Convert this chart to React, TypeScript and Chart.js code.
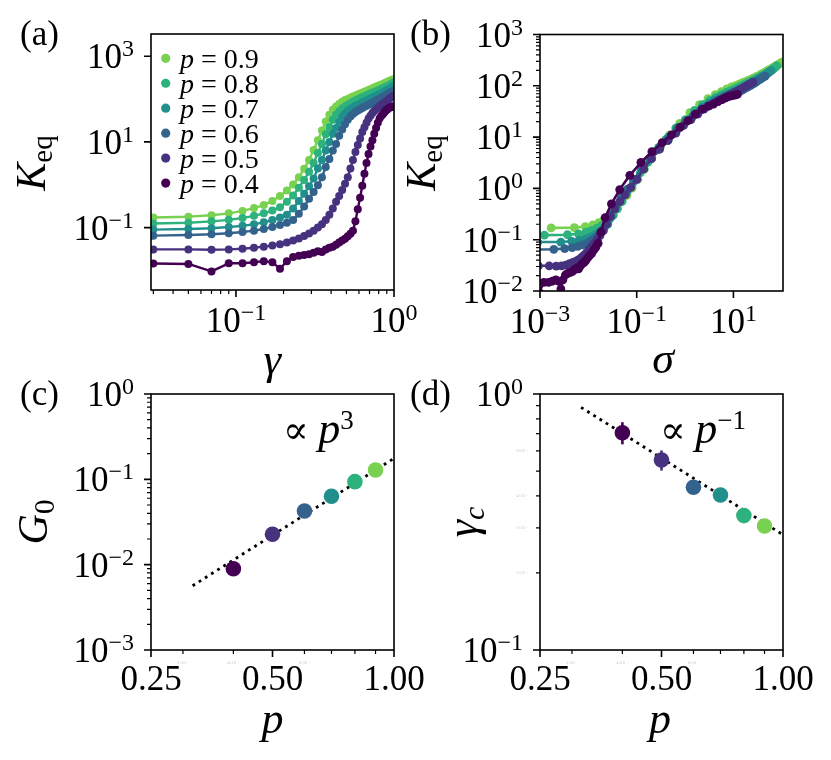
import React, { useEffect, useRef } from 'react';
import { Chart, registerables } from 'chart.js';
Chart.register(...registerables);

const SERIF = '"Liberation Serif", "DejaVu Serif", "Times New Roman", serif';

// ---------------- data ----------------
const gammaVals = [0.01, 0.03, 0.05, 0.07, 0.09, 0.11, 0.13, 0.15, 0.17, 0.19, 0.21, 0.23, 0.25, 0.27, 0.29, 0.31, 0.33, 0.35, 0.37, 0.39, 0.41, 0.43, 0.45, 0.47, 0.49, 0.51, 0.53, 0.55, 0.57, 0.59, 0.61, 0.63, 0.65, 0.67, 0.69, 0.71, 0.73, 0.75, 0.77, 0.79, 0.81, 0.83, 0.85, 0.87, 0.89, 0.91, 0.93, 0.95, 0.97, 0.99];

const K09 = [0.17, 0.172, 0.18, 0.195, 0.215, 0.245, 0.285, 0.335, 0.42, 0.55, 0.73, 1.01, 1.5, 2.35, 3.8, 6.5, 11, 18.5, 30, 43, 56, 67, 77, 87, 95, 101, 108, 115, 121, 127, 134, 141, 148, 155, 162, 170, 177, 185, 193, 201, 209, 217, 225, 234, 243, 252, 261, 270, 280, 290];
const K08 = [0.123, 0.125, 0.13, 0.14, 0.152, 0.168, 0.188, 0.215, 0.25, 0.30, 0.40, 0.56, 0.85, 1.3, 2.0, 3.2, 5.5, 9, 15, 22, 33, 43, 52, 60, 67, 74, 80, 86, 92, 98, 104, 110, 116, 122, 128, 134, 140, 146, 152, 158, 164, 171, 178, 185, 193, 201, 210, 220, 232, 245];
const K07 = [0.09, 0.09, 0.093, 0.097, 0.103, 0.11, 0.12, 0.133, 0.15, 0.172, 0.2, 0.28, 0.42, 0.62, 0.92, 1.4, 2.4, 3.8, 6.3, 10, 15.5, 21, 29, 38, 46, 53, 59, 64, 69, 73, 78, 83, 88, 93, 98, 103, 108, 113, 118, 124, 130, 136, 142, 149, 156, 163, 171, 179, 188, 198];
const K06 = [0.064, 0.065, 0.067, 0.07, 0.074, 0.079, 0.085, 0.093, 0.103, 0.115, 0.13, 0.15, 0.21, 0.31, 0.47, 0.68, 0.97, 1.5, 2.6, 4.0, 6.3, 9, 14, 19.5, 26, 33, 39, 45, 50, 54, 58, 62, 66, 70, 74, 78, 82, 87, 92, 96, 101, 106, 112, 118, 124, 130, 136, 142, 149, 155];
const K05 = [0.031, 0.031, 0.031, 0.0305, 0.031, 0.032, 0.034, 0.036, 0.038, 0.041, 0.045, 0.05, 0.056, 0.064, 0.073, 0.085, 0.1, 0.12, 0.15, 0.2, 0.28, 0.40, 0.55, 0.75, 1.05, 1.5, 2.4, 3.8, 5.8, 8.5, 12, 17, 22, 28, 35, 41, 47, 53, 58, 63, 68, 73, 78, 83, 88, 94, 100, 106, 112, 118];
const K04 = [0.0145, 0.0145, 0.0142, 0.0095, 0.0147, 0.0147, 0.0155, 0.0165, 0.0155, 0.011, 0.0165, 0.0205, 0.022, 0.023, 0.024, 0.026, 0.028, 0.027, 0.031, 0.034, 0.036, 0.040, 0.045, 0.050, 0.055, 0.063, 0.072, 0.085, 0.14, 0.27, 0.5, 0.95, 1.8, 3.2, 5.2, 7.8, 11, 15.5, 21, 28, 35, 40, 44, 49, 54, 58, 62, 64, 66, 68];

const sigma09 = [0.0017, 0.00512, 0.00864, 0.0124, 0.0165, 0.0211, 0.0264, 0.0326, 0.0401, 0.0498, 0.0626, 0.080, 0.105, 0.144, 0.205, 0.308, 0.483, 0.778, 1.26, 1.99, 2.98, 4.21, 5.65, 7.29, 9.11, 11.07, 13.16, 15.39, 17.75, 20.23, 22.84, 25.59, 28.48, 31.51, 34.68, 38.0, 41.47, 45.09, 48.87, 52.81, 56.91, 61.17, 65.59, 70.18, 74.95, 79.9, 85.03, 90.34, 95.84, 101.5];
const sigma08 = [0.00123, 0.00371, 0.00626, 0.00896, 0.01188, 0.01508, 0.01864, 0.02267, 0.02732, 0.03282, 0.03982, 0.04942, 0.06352, 0.08502, 0.118, 0.170, 0.257, 0.402, 0.642, 1.012, 1.562, 2.322, 3.272, 4.392, 5.662, 7.072, 8.612, 10.27, 12.05, 13.95, 15.97, 18.11, 20.37, 22.75, 25.25, 27.87, 30.61, 33.47, 36.45, 39.55, 42.77, 46.12, 49.61, 53.24, 57.02, 60.96, 65.07, 69.37, 73.89, 78.66];
const sigma07 = [0.0009, 0.0027, 0.00453, 0.00643, 0.00843, 0.01056, 0.01286, 0.01539, 0.01822, 0.02144, 0.02516, 0.02996, 0.03696, 0.04736, 0.06276, 0.08596, 0.124, 0.186, 0.287, 0.450, 0.705, 1.07, 1.57, 2.24, 3.08, 4.07, 5.19, 6.42, 7.75, 9.17, 10.68, 12.29, 14.0, 15.81, 17.72, 19.73, 21.84, 24.05, 26.36, 28.78, 31.32, 33.98, 36.76, 39.67, 42.72, 45.91, 49.25, 52.75, 56.42, 60.28];
const sigma06 = [0.00064, 0.00193, 0.00325, 0.00462, 0.00606, 0.00759, 0.00923, 0.01101, 0.01297, 0.01515, 0.0176, 0.0204, 0.024, 0.0292, 0.037, 0.0485, 0.065, 0.0897, 0.1307, 0.1967, 0.2997, 0.4527, 0.6827, 1.018, 1.473, 2.063, 2.783, 3.623, 4.573, 5.613, 6.733, 7.933, 9.213, 10.57, 12.01, 13.53, 15.13, 16.82, 18.61, 20.49, 22.46, 24.53, 26.71, 29.01, 31.43, 33.97, 36.63, 39.41, 42.32, 45.36];
const sigma05 = [0.00031, 0.00093, 0.00155, 0.00217, 0.00279, 0.00342, 0.00408, 0.00478, 0.00552, 0.00631, 0.00717, 0.00812, 0.00918, 0.01038, 0.01175, 0.01333, 0.01518, 0.01738, 0.02008, 0.02358, 0.02838, 0.03518, 0.04468, 0.05768, 0.07568, 0.1012, 0.1402, 0.2022, 0.2982, 0.4412, 0.6462, 0.9362, 1.326, 1.826, 2.456, 3.216, 4.096, 5.096, 6.206, 7.416, 8.726, 10.14, 11.65, 13.26, 14.97, 16.79, 18.73, 20.79, 22.97, 25.27];
const sigma04 = [0.000145, 0.000435, 0.000722, 0.000959, 0.001201, 0.001495, 0.001797, 0.002117, 0.002437, 0.002702, 0.002977, 0.003347, 0.003772, 0.004222, 0.004692, 0.005192, 0.005732, 0.006282, 0.006862, 0.007512, 0.008212, 0.008972, 0.009822, 0.01077, 0.01182, 0.013, 0.01435, 0.01592, 0.01817, 0.02227, 0.02997, 0.04447, 0.07197, 0.122, 0.206, 0.336, 0.524, 0.789, 1.154, 1.644, 2.274, 3.024, 3.864, 4.794, 5.824, 6.944, 8.144, 9.404, 10.7, 12.04];

const pValues = [0.4, 0.5, 0.6, 0.7, 0.8, 0.9];
const pColors = ['#440154', '#46327e', '#33638d', '#21908d', '#2db27d', '#79d151'];
const Kseries = [K04, K05, K06, K07, K08, K09];
const sigmaSeries = [sigma04, sigma05, sigma06, sigma07, sigma08, sigma09];

const G0Vals = [0.00897, 0.0227, 0.0426, 0.0633, 0.0939, 0.1286];
const gammaCVals = [0.706, 0.552, 0.432, 0.403, 0.335, 0.305];
const gammaCErr = [0.07, 0.05, 0.012, 0.01, 0.008, 0.008];

const fitG0P = [0.317, 1.0];
const fitG0Y = [0.00566, 0.176];
const fitGcP = [0.316, 1.0];
const fitGcY = [0.887, 0.282];

// ticks
const aXMajor = [0.1, 1];
const aXMinor = [0.03, 0.04, 0.05, 0.06, 0.07, 0.08, 0.09, 0.2, 0.3, 0.4, 0.5, 0.6, 0.7, 0.8, 0.9];
const aYMajor = [0.1, 10, 1000];
const bXMajor = [0.001, 0.1, 10];
const bYMajor = [0.01, 0.1, 1, 10, 100, 1000];
const cYMajor = [0.001, 0.01, 0.1, 1];
const dYMajor = [0.1, 1];
const dYMinor = [0.2, 0.3, 0.4, 0.5, 0.6, 0.7, 0.8, 0.9];
const pXMajor = [0.25, 0.5, 1.0];
const pXMajorLabels = ['0.25', '0.50', '1.00'];
const pXMinor = [0.3, 0.4, 0.6, 0.7, 0.8, 0.9];
const faintXMinor = [0.3, 0.4, 0.6];
const faintXLabels = ['3\u00d710\u207b\u00b9', '4\u00d710\u207b\u00b9', '6\u00d710\u207b\u00b9'];
const faintYMinor = [0.2, 0.3, 0.4, 0.6];
const faintYLabels = ['2\u00d710\u207b\u00b9', '3\u00d710\u207b\u00b9', '4\u00d710\u207b\u00b9', '6\u00d710\u207b\u00b9'];

function minorLog(e0: number, e1: number): number[] {
  const out: number[] = [];
  for (let e = e0; e <= e1; e++) for (let m = 2; m <= 9; m++) out.push(m * Math.pow(10, e));
  return out;
}

// ---------------- text helpers ----------------
type Part = { t: string; s: number; it?: boolean; dy?: number };
function fontOf(p: Part) {
  return `${p.it ? 'italic ' : ''}${p.s}px ${SERIF}`;
}
function partsWidth(ctx: CanvasRenderingContext2D, parts: Part[]) {
  let w = 0;
  for (const p of parts) {
    ctx.font = fontOf(p);
    w += ctx.measureText(p.t).width;
  }
  return w;
}
function drawParts(ctx: CanvasRenderingContext2D, parts: Part[], x: number, y: number, align: 'left' | 'center' | 'right') {
  const w = partsWidth(ctx, parts);
  let cx = align === 'left' ? x : align === 'center' ? x - w / 2 : x - w;
  ctx.textAlign = 'left';
  ctx.textBaseline = 'alphabetic';
  for (const p of parts) {
    ctx.font = fontOf(p);
    ctx.fillText(p.t, cx, y + (p.dy || 0));
    cx += ctx.measureText(p.t).width;
  }
}
function powLabel(v: number): Part[] {
  const e = Math.round(Math.log10(v));
  return [
    { t: '10', s: 35 },
    { t: e < 0 ? '\u2212' + Math.abs(e) : String(e), s: 24, dy: -12 },
  ];
}

interface PanelSpec {
  xMajor: number[];
  xLabels: Part[][];
  xMinor: number[];
  yMajor: number[];
  yLabels: Part[][];
  yMinor: number[];
  xTitle: Part[];
  xTitleAt: [number, number];
  yTitle: Part[];
  yTitleAt: [number, number];
  tag: string;
  tagAt: [number, number];
  extra?: (ctx: CanvasRenderingContext2D, chart: any) => void;
}

function decorPlugin(spec: PanelSpec) {
  return {
    id: 'panelDecor',
    afterDraw(chart: any) {
      const ctx: CanvasRenderingContext2D = chart.ctx;
      const a = chart.chartArea;
      const xs = chart.scales.x;
      const ys = chart.scales.y;
      ctx.save();
      ctx.strokeStyle = '#000';
      ctx.fillStyle = '#000';
      ctx.lineWidth = 1.2;
      ctx.beginPath();
      for (const v of spec.xMinor) {
        const x = xs.getPixelForValue(v);
        ctx.moveTo(x, a.bottom);
        ctx.lineTo(x, a.bottom + 4);
      }
      for (const v of spec.yMinor) {
        const y = ys.getPixelForValue(v);
        ctx.moveTo(a.left, y);
        ctx.lineTo(a.left - 4, y);
      }
      ctx.stroke();
      ctx.lineWidth = 1.6;
      ctx.beginPath();
      for (const v of spec.xMajor) {
        const x = xs.getPixelForValue(v);
        ctx.moveTo(x, a.bottom);
        ctx.lineTo(x, a.bottom + 7);
      }
      for (const v of spec.yMajor) {
        const y = ys.getPixelForValue(v);
        ctx.moveTo(a.left, y);
        ctx.lineTo(a.left - 7, y);
      }
      ctx.stroke();
      ctx.strokeRect(a.left, a.top, a.right - a.left, a.bottom - a.top);
      spec.xMajor.forEach((v, i) => {
        const x = xs.getPixelForValue(v);
        const parts = spec.xLabels[i];
        drawParts(ctx, parts, x, a.bottom + (parts.length > 1 ? 42 : 40), 'center');
      });
      spec.yMajor.forEach((v, i) => {
        const y = ys.getPixelForValue(v);
        drawParts(ctx, spec.yLabels[i], a.left - 17, y + 12, 'right');
      });
      drawParts(ctx, spec.xTitle, spec.xTitleAt[0], spec.xTitleAt[1], 'center');
      ctx.save();
      ctx.translate(spec.yTitleAt[0], spec.yTitleAt[1]);
      ctx.rotate(-Math.PI / 2);
      drawParts(ctx, spec.yTitle, 0, 0, 'center');
      ctx.restore();
      drawParts(ctx, [{ t: spec.tag, s: 35 }], spec.tagAt[0], spec.tagAt[1], 'left');
      if (spec.extra) spec.extra(ctx, chart);
      ctx.restore();
    },
  };
}

function baseOptions(pad: any, x: [number, number], y: [number, number]) {
  return {
    responsive: false,
    animation: false,
    devicePixelRatio: 1,
    events: [],
    layout: { padding: pad },
    plugins: { legend: { display: false }, tooltip: { enabled: false } },
    scales: {
      x: { type: 'logarithmic', min: x[0], max: x[1], display: false },
      y: { type: 'logarithmic', min: y[0], max: y[1], display: false },
    },
  };
}

function curveDatasets(xsArr: number[][] | null, radius: number, width: number) {
  return pValues.map((p, i) => ({
    label: `p = ${p}`,
    data: Kseries[i].map((k, j) => ({ x: xsArr ? xsArr[i][j] : gammaVals[j], y: k })),
    borderColor: pColors[i],
    backgroundColor: pColors[i],
    pointBackgroundColor: pColors[i],
    pointBorderWidth: 0,
    pointRadius: radius,
    borderWidth: width,
    borderJoinStyle: 'round',
    tension: 0,
  }));
}

function drawLegendA(ctx: CanvasRenderingContext2D) {
  const order = [5, 4, 3, 2, 1, 0];
  order.forEach((idx, row) => {
    const y = 58.3 + row * 24.95;
    ctx.fillStyle = pColors[idx];
    ctx.beginPath();
    ctx.arc(165.7, y, 4.6, 0, Math.PI * 2);
    ctx.fill();
    ctx.fillStyle = '#000';
    drawParts(ctx, [{ t: 'p', it: true, s: 28 }, { t: ' = ' + pValues[idx].toFixed(1), s: 28 }], 180, y + 9.5, 'left');
  });
}

function drawFaint(ctx: CanvasRenderingContext2D, chart: any, withY: boolean) {
  const a = chart.chartArea;
  ctx.fillStyle = 'rgba(0,0,0,0.28)';
  ctx.font = `4px ${SERIF}`;
  ctx.textAlign = 'center';
  faintXMinor.forEach((v, i) => {
    ctx.fillText(faintXLabels[i], chart.scales.x.getPixelForValue(v), a.bottom + 14);
  });
  if (withY) {
    ctx.textAlign = 'right';
    faintYMinor.forEach((v, i) => {
      ctx.fillText(faintYLabels[i], a.left - 12, chart.scales.y.getPixelForValue(v) + 1.5);
    });
  }
  ctx.fillStyle = '#000';
}

function makeA() {
  return {
    type: 'line',
    data: { datasets: curveDatasets(null, 4, 2.4) },
    options: baseOptions({ left: 151, top: 34, right: 437, bottom: 470 }, [0.029, 1.0], [0.0035, 3300]),
    plugins: [
      decorPlugin({
        xMajor: aXMajor, xLabels: aXMajor.map(powLabel), xMinor: aXMinor,
        yMajor: aYMajor, yLabels: aYMajor.map(powLabel), yMinor: [],
        xTitle: [{ t: '\u03b3', it: true, s: 44 }], xTitleAt: [272.5, 374],
        yTitle: [{ t: 'K', it: true, s: 42 }, { t: 'eq', s: 29, dy: 7 }], yTitleAt: [45, 163],
        tag: '(a)', tagAt: [20, 45],
        extra: (ctx) => drawLegendA(ctx),
      }),
    ],
  };
}

function makeB() {
  return {
    type: 'line',
    data: { datasets: curveDatasets(sigmaSeries, 4.4, 2.6) },
    options: baseOptions({ left: 540, top: 34.5, right: 48, bottom: 469 }, [0.001, 106], [0.01, 1000]),
    plugins: [
      decorPlugin({
        xMajor: bXMajor, xLabels: bXMajor.map(powLabel), xMinor: [],
        yMajor: bYMajor, yLabels: bYMajor.map(powLabel), yMinor: minorLog(-2, 2),
        xTitle: [{ t: '\u03c3', it: true, s: 44 }], xTitleAt: [663, 373],
        yTitle: [{ t: 'K', it: true, s: 42 }, { t: 'eq', s: 29, dy: 7 }], yTitleAt: [435, 163],
        tag: '(b)', tagAt: [410, 45],
      }),
    ],
  };
}

function makeC() {
  return {
    type: 'line',
    data: {
      datasets: [
        {
          data: pValues.map((p, i) => ({ x: p, y: G0Vals[i] })),
          showLine: false,
          pointRadius: 7.8,
          pointBorderWidth: 0,
          pointBackgroundColor: pColors,
          borderColor: 'transparent',
        },
        {
          data: fitG0P.map((p, i) => ({ x: p, y: fitG0Y[i] })),
          borderColor: '#000',
          borderWidth: 2.8,
          borderDash: [2.8, 4.5],
          pointRadius: 0,
          tension: 0,
        },
      ],
    },
    options: baseOptions({ left: 151, top: 394, right: 437, bottom: 110 }, [0.25, 1.0], [0.001, 1]),
    plugins: [
      decorPlugin({
        xMajor: pXMajor, xLabels: pXMajorLabels.map((t) => [{ t, s: 35 }]), xMinor: pXMinor,
        yMajor: cYMajor, yLabels: cYMajor.map(powLabel), yMinor: minorLog(-3, -1),
        xTitle: [{ t: 'p', it: true, s: 44 }], xTitleAt: [272.5, 733],
        yTitle: [{ t: 'G', it: true, s: 42 }, { t: '0', s: 29, dy: 7 }], yTitleAt: [47, 522],
        tag: '(c)', tagAt: [20, 405],
        extra: (ctx, chart) => {
          drawFaint(ctx, chart, false);
          drawParts(ctx, [{ t: '\u221d ', s: 38 }, { t: 'p', it: true, s: 44 }, { t: '3', s: 27, dy: -14 }], 283, 443, 'left');
        },
      }),
    ],
  };
}

function makeD() {
  const errSets = pValues.map((p, i) => ({
    data: [
      { x: p, y: gammaCVals[i] - gammaCErr[i] },
      { x: p, y: gammaCVals[i] + gammaCErr[i] },
    ],
    borderColor: pColors[i],
    borderWidth: 2.6,
    pointRadius: 0,
    tension: 0,
  }));
  return {
    type: 'line',
    data: {
      datasets: [
        {
          data: pValues.map((p, i) => ({ x: p, y: gammaCVals[i] })),
          showLine: false,
          pointRadius: 7.8,
          pointBorderWidth: 0,
          pointBackgroundColor: pColors,
          borderColor: 'transparent',
        },
        ...errSets,
        {
          data: fitGcP.map((p, i) => ({ x: p, y: fitGcY[i] })),
          borderColor: '#000',
          borderWidth: 2.8,
          borderDash: [2.8, 4.5],
          pointRadius: 0,
          tension: 0,
        },
      ],
    },
    options: baseOptions({ left: 540, top: 394, right: 48, bottom: 110 }, [0.25, 1.0], [0.1, 1]),
    plugins: [
      decorPlugin({
        xMajor: pXMajor, xLabels: pXMajorLabels.map((t) => [{ t, s: 35 }]), xMinor: pXMinor,
        yMajor: dYMajor, yLabels: dYMajor.map(powLabel), yMinor: dYMinor,
        xTitle: [{ t: 'p', it: true, s: 44 }], xTitleAt: [660, 733],
        yTitle: [{ t: '\u03b3', it: true, s: 44 }, { t: 'c', it: true, s: 30, dy: 7 }], yTitleAt: [477, 522],
        tag: '(d)', tagAt: [410, 405],
        extra: (ctx, chart) => {
          drawFaint(ctx, chart, true);
          drawParts(ctx, [{ t: '\u221d ', s: 38 }, { t: 'p', it: true, s: 44 }, { t: '\u22121', s: 27, dy: -14 }], 660, 443, 'left');
        },
      }),
    ],
  };
}

function PanelCanvas({ make }: { make: () => any }) {
  const ref = useRef<HTMLCanvasElement | null>(null);
  useEffect(() => {
    if (!ref.current) return;
    const chart = new Chart(ref.current, make());
    return () => chart.destroy();
  }, [make]);
  return (
    <canvas
      ref={ref}
      width={831}
      height={760}
      style={{ position: 'absolute', left: 0, top: 0, width: 831, height: 760 }}
    />
  );
}

export default function App() {
  return (
    <div style={{ position: 'absolute', left: 0, top: 0, width: 831, height: 760, background: '#fff', overflow: 'hidden' }}>
      <PanelCanvas make={makeA} />
      <PanelCanvas make={makeB} />
      <PanelCanvas make={makeC} />
      <PanelCanvas make={makeD} />
    </div>
  );
}
